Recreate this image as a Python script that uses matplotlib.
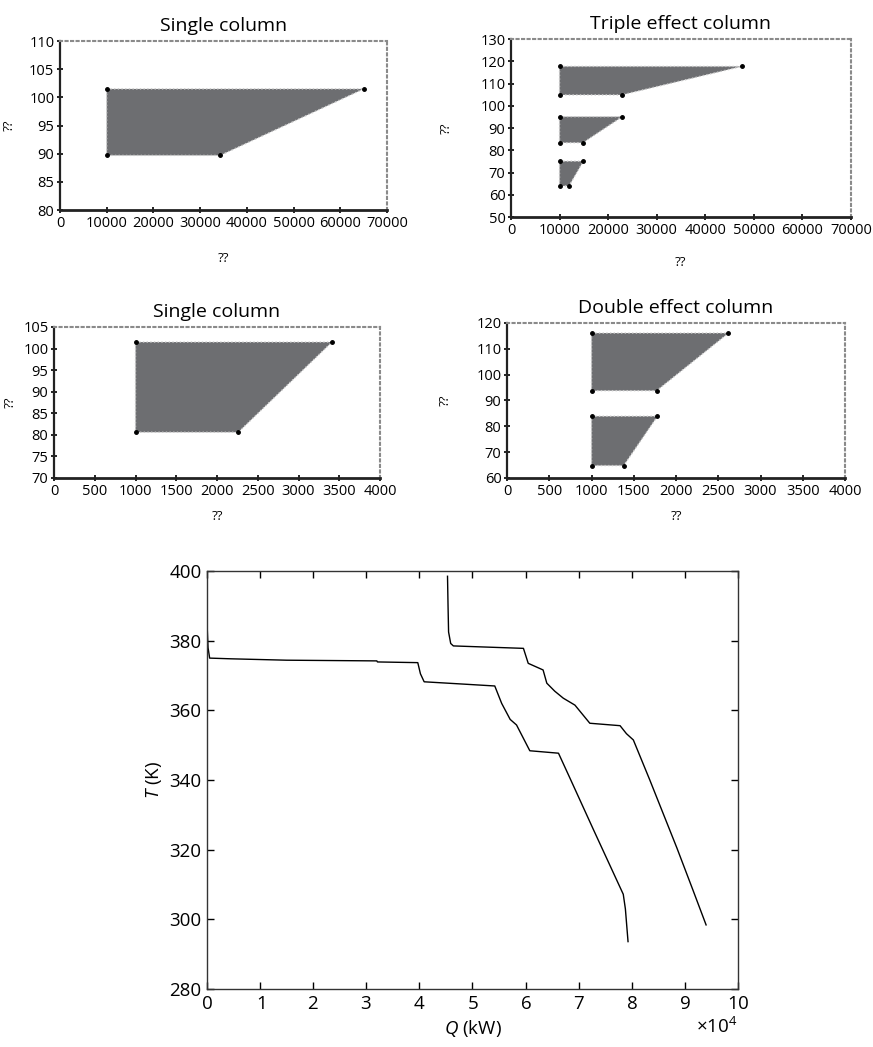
#! /usr/bin/env python3

import matplotlib
matplotlib.use('Agg')
import matplotlib.pyplot as plt
import numpy as np

plt.rcParams['font.family'] = ['Open Sans', 'DejaVu Sans']
plt.rcParams['mathtext.fontset'] = 'custom'
plt.rcParams['mathtext.rm'] = 'Open Sans'
plt.rcParams['mathtext.it'] = 'Open Sans:italic'

# polygon vertices for the four small panels (Q, T)
single_big_q = [10000, 65000, 34300, 10000]
single_big_t = [101.5, 101.5, 89.7, 89.7]

triple_top_q = [10000, 47500, 22800, 10000]
triple_top_t = [117.7, 117.7, 104.9, 104.9]
triple_mid_q = [10000, 22900, 14800, 10000]
triple_mid_t = [95.1, 95.1, 83.4, 83.4]
triple_low_q = [10000, 14900, 11950, 10000]
triple_low_t = [75.1, 75.1, 64.0, 64.0]

single_small_q = [1000, 3410, 2260, 1000]
single_small_t = [101.5, 101.5, 80.6, 80.6]

double_top_q = [1000, 2620, 1770, 1000]
double_top_t = [116.1, 116.1, 93.8, 93.8]
double_low_q = [1000, 1780, 1380, 1000]
double_low_t = [83.9, 83.9, 64.8, 64.8]

# composite curves for the bottom panel
hot_q = [45300, 45400, 45500, 45900, 46400, 52000, 59600, 60500, 63300, 64000,
         65500, 67100, 69300, 72100, 77800, 79000, 80300, 83400, 88500, 91500, 94000]
hot_t = [398.5, 390.0, 382.5, 379.2, 378.5, 378.2, 377.8, 373.5, 371.6, 367.8,
         365.5, 363.5, 361.5, 356.3, 355.6, 353.3, 351.5, 340.0, 320.5, 308.5, 298.4]

cold_q = [0, 200, 500, 4500, 15000, 32000, 32100, 39700, 40200, 40900, 47600,
          54200, 55500, 57100, 58300, 60800, 66200, 68400, 72800, 78400, 78800, 79300]
cold_t = [385.2, 378.0, 375.0, 374.8, 374.4, 374.2, 373.9, 373.7, 370.5, 368.2, 367.6,
          367.0, 362.0, 357.4, 355.8, 348.4, 347.7, 340.4, 325.7, 307.2, 303.0, 293.6]

FILL = '#6d6e71'


def main():
    fig = plt.figure(figsize=(8.73, 10.47), dpi=100)

    ax1 = fig.add_axes([0.0687, 0.7994, 0.3746, 0.1614])
    prep_small(ax1, 'Single column', (0, 70000), np.arange(0, 70001, 10000),
               (80, 110), np.arange(80, 111, 5), -0.135, -0.25)
    draw_poly(ax1, single_big_q, single_big_t)

    ax2 = fig.add_axes([0.5853, 0.7927, 0.3895, 0.1700])
    prep_small(ax2, 'Triple effect column', (0, 70000), np.arange(0, 70001, 10000),
               (50, 130), np.arange(50, 131, 10), -0.17, -0.22)
    draw_poly(ax2, triple_top_q, triple_top_t)
    draw_poly(ax2, triple_mid_q, triple_mid_t)
    draw_poly(ax2, triple_low_q, triple_low_t)

    ax3 = fig.add_axes([0.0619, 0.5435, 0.3734, 0.1442])
    prep_small(ax3, 'Single column', (0, 4000), np.arange(0, 4001, 500),
               (70, 105), np.arange(70, 106, 5), -0.115, -0.21)
    draw_poly(ax3, single_small_q, single_small_t)

    ax4 = fig.add_axes([0.5808, 0.5435, 0.3872, 0.1480])
    prep_small(ax4, 'Double effect column', (0, 4000), np.arange(0, 4001, 500),
               (60, 120), np.arange(60, 121, 10), -0.165, -0.21)
    draw_poly(ax4, double_top_q, double_top_t)
    draw_poly(ax4, double_low_q, double_low_t)

    ax5 = fig.add_axes([0.2371, 0.0554, 0.6082, 0.3992])
    ax5.plot(hot_q, hot_t, color='black', lw=1.0)
    ax5.plot(cold_q, cold_t, color='black', lw=1.0)
    ax5.set_xlim(0, 100000)
    ax5.set_ylim(280, 400)
    ax5.set_xticks(np.arange(0, 100001, 10000))
    ax5.set_yticks(np.arange(280, 401, 20))
    ax5.ticklabel_format(axis='x', style='sci', scilimits=(4, 4), useMathText=True)
    ax5.xaxis.get_offset_text().set_fontsize(13.5)
    ax5.tick_params(direction='in', top=True, right=True, length=5, width=1,
                    labelsize=13.5)
    ax5.tick_params(axis='x', pad=4)
    ax5.tick_params(axis='y', pad=4)
    for s in ax5.spines.values():
        s.set_linewidth(1.0)
        s.set_color('#333333')
    ax5.set_xlabel('$Q$ (kW)', fontsize=13.5, labelpad=4)
    ax5.set_ylabel('$T$ (K)', fontsize=13.5, labelpad=4)

    fig.savefig('out.png', dpi=100)


def prep_small(ax, title, xlim, xticks, ylim, yticks, ylab_x, xlab_y):
    ax.set_xlim(*xlim)
    ax.set_ylim(*ylim)
    ax.set_xticks(xticks)
    ax.set_yticks(yticks)
    ax.tick_params(direction='inout', length=4, width=1.2, labelsize=10.5, pad=2)
    ax.spines['left'].set_linewidth(1.6)
    ax.spines['bottom'].set_linewidth(2.0)
    ax.spines['left'].set_color('#222222')
    ax.spines['bottom'].set_color('#222222')
    for side in ('top', 'right'):
        ax.spines[side].set_color('#8a8a8a')
        ax.spines[side].set_linestyle(':')
        ax.spines[side].set_linewidth(1.5)
    ax.set_title(title, fontsize=14, pad=7)
    ax.set_ylabel('??', fontsize=9.5)
    ax.set_xlabel('??', fontsize=9.5)
    ax.yaxis.set_label_coords(ylab_x, 0.5)
    ax.xaxis.set_label_coords(0.5, xlab_y)


def draw_poly(ax, q, t):
    ax.fill(q, t, facecolor=FILL, edgecolor='#c8c8c8', lw=1, ls=':')
    ax.plot(q, t, ls='none', marker='o', ms=2.5, color='black')


if __name__ == '__main__':
    main()
